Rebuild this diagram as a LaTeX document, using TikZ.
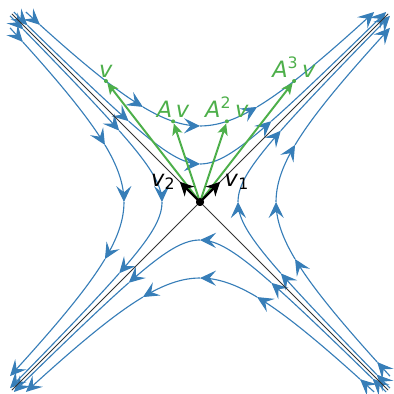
\documentclass[tikz,border=0pt]{standalone}
\usepackage{fontspec}
\setmainfont{DejaVu Sans}
\usetikzlibrary{arrows.meta, positioning}
\definecolor{flowblue}{RGB}{55,126,184}
\definecolor{vecgreen}{RGB}{77,175,74}

\begin{document}
\begin{tikzpicture}[
    x=0.025cm, y=0.025cm,
    flow/.style={flowblue, line width=0.8pt, -{Stealth[length=4mm, width=3.8mm, inset=1.6mm]}},
    axis/.style={black!80, line width=0.6pt},
    gvec/.style={vecgreen, line width=1.4pt, -{Stealth[length=2.8mm, width=2.6mm, inset=0.7mm]}},
    evec/.style={black, line width=1.6pt, -{Stealth[length=3.4mm, width=3.4mm, inset=1mm]}},
    pt/.style={circle, fill=vecgreen, inner sep=0pt, minimum size=1mm},
    cdot/.style={circle, fill=black, inner sep=0pt, minimum size=2mm},
    glbl/.style={text=vecgreen, font=\fontsize{16}{18}\selectfont, inner sep=1pt},
    elbl/.style={text=black, font=\fontsize{16}{18}\selectfont, inner sep=1pt},
]
\useasboundingbox (0,0) rectangle (394,394);

\begin{scope}[shift={(200,192)}, x={(0.3359cm,0.3359cm)}, y={(-0.3359cm,0.3359cm)}]

% flow lines
\foreach \su/\sw/\cc in {1/1/2, 1/1/8, -1/-1/2, -1/-1/8, -1/1/2, -1/1/8, 1/-1/2, 1/-1/8}{
    \pgfmathsetmacro{\rr}{sqrt(\cc)}
    \pgfmathsetmacro{\smax}{(14.14+sqrt(14.14*14.14-4*\cc))/2}
    \pgfmathsetmacro{\tend}{ln(\smax/\rr)}
    \pgfmathsetmacro{\tarr}{ln((\smax-1)/\rr)}
    \pgfmathsetmacro{\tmid}{ln(5.66/\rr)}
    \foreach \ta/\tb in {-\tend/-\tarr, -\tarr/-\tmid, -\tmid/0, 0/\tmid, \tmid/\tend}
        \draw[flow] plot[smooth, samples=25, domain=\ta:\tb] ({\su*\rr*exp(\x)}, {\sw*\rr*exp(-\x)});
}

% eigenlines
\coordinate (ne) at (14,0);
\coordinate (sw) at (-14,0);
\coordinate (nw) at (0,14);
\coordinate (se) at (0,-14);
\draw[axis] (sw) -- (ne);
\draw[axis] (nw) -- (se);

% iterates
\node[cdot] (O) at (0,0) {};
\node[pt] (v) at (1,8) {};
\node[pt] (Av) at (2,4) {};
\node[pt] (A2v) at (4,2) {};
\node[pt] (A3v) at (8,1) {};

\draw[gvec] (O.center) -- (v);
\draw[gvec] (O.center) -- (Av);
\draw[gvec] (O.center) -- (A2v);
\draw[gvec] (O.center) -- (A3v);

\node[glbl, above=0pt of v] (lv) {\textit{v}};
\node[glbl, above=0pt of Av] (lAv) {\textit{A}\,\textit{v}};
\node[glbl, above=0pt of A2v] (lA2v) {\textit{A}\textsuperscript{2}\,\textit{v}};
\node[glbl, above=0pt of A3v] (lA3v) {\textit{A}\textsuperscript{3}\,\textit{v}};

% eigenvectors
\coordinate (e1) at (1.5,0);
\coordinate (e2) at (0,1.5);
\draw[evec] (O.center) -- (e1);
\draw[evec] (O.center) -- (e2);
\node[elbl, right=2pt of e1] (lv1) {\textit{v}\textsubscript{1}};
\node[elbl, left=2pt of e2] (lv2) {\textit{v}\textsubscript{2}};

\node[cdot] at (O) {};

\end{scope}
\end{tikzpicture}
\end{document}
